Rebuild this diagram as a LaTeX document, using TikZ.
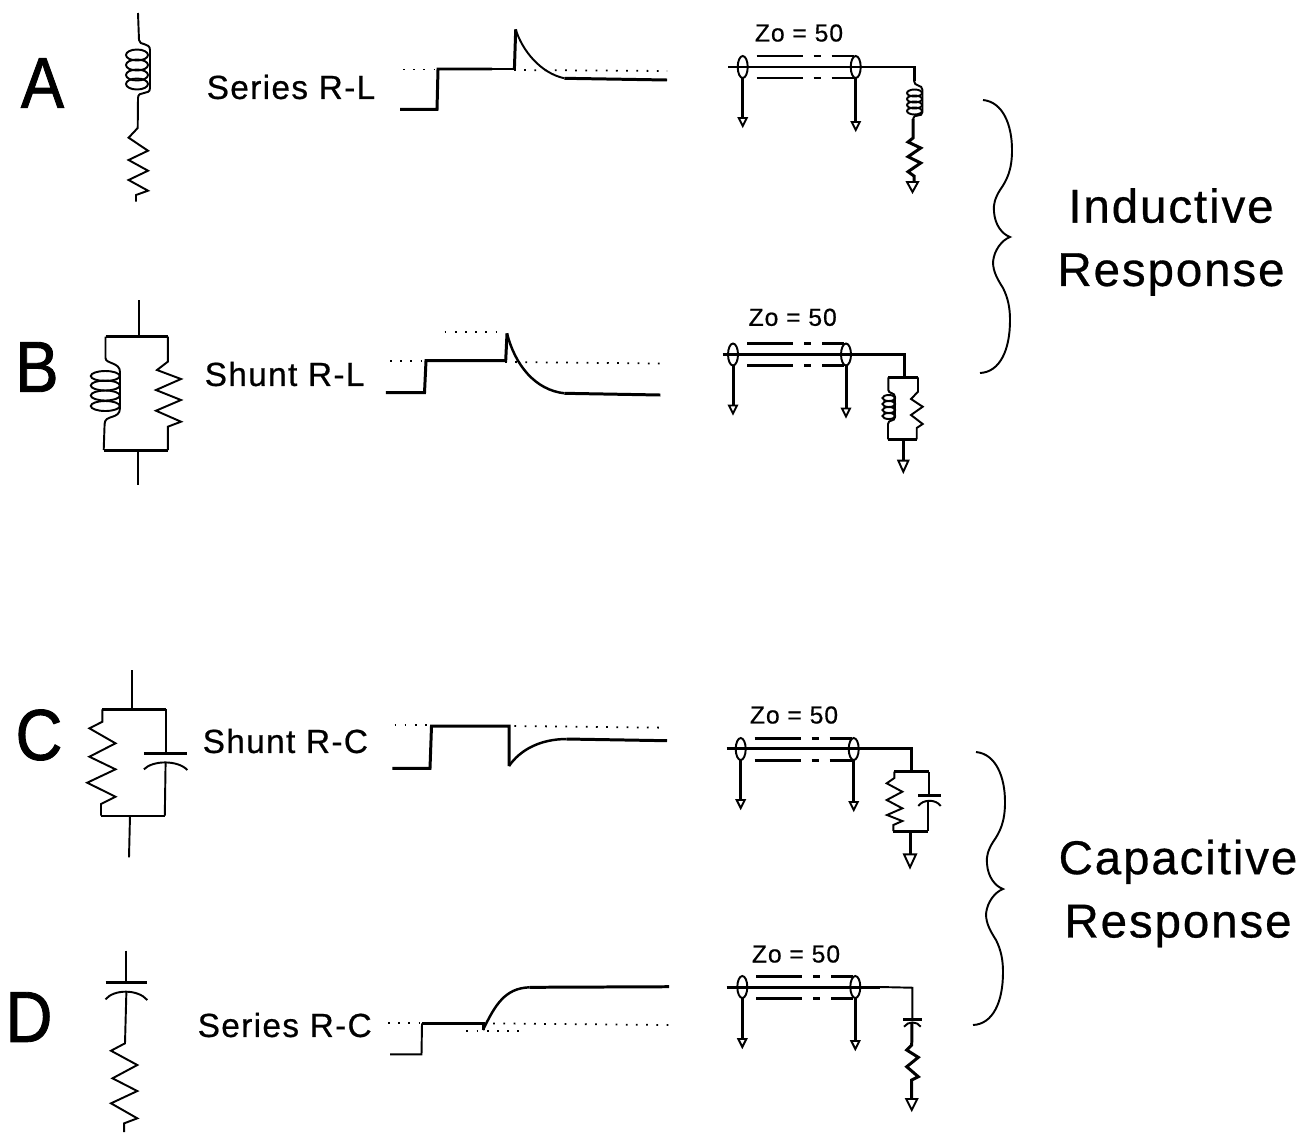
\documentclass[tikz,border=0pt]{standalone}
\usepackage{fontspec}
\setmainfont{Liberation Sans}
\newfontfamily\spacedfont[LetterSpace=4,FakeBold=0.6]{Liberation Sans}
\newfontfamily\letterfont[FakeStretch=0.9,FakeBold=1.2]{Liberation Sans}
\usetikzlibrary{calc}
\tikzset{
  wire/.style={line width=0.55pt},
  trace/.style={line width=0.85pt},
  thintrace/.style={line width=0.55pt},
  dotline/.style={line width=0.5pt, dash pattern=on 0.5pt off 2.4pt},
  plate/.style={line width=0.9pt},
  groundtip/.style={line width=0.55pt, fill=white},
  panelletter/.style={font=\letterfont\fontsize{20.5}{22}\selectfont},
  circuitname/.style={font=\spacedfont\fontsize{9.5}{11}\selectfont},
  impedance/.style={font=\spacedfont\fontsize{7}{8}\selectfont},
  responsename/.style={font=\spacedfont\fontsize{13.5}{18}\selectfont, align=center},
}
% x, y, half width, height
\newcommand{\gndtip}[4]{\draw[groundtip] (#1-#3,#2) -- (#1+#3,#2) -- (#1,#2+#4) -- cycle;}
% center x, rx, ry, list of y
\newcommand{\coilloops}[4]{\foreach \yc in {#4} {\draw[wire] (#1,\yc) ellipse [x radius=#2, y radius=#3];}}
% x, y of left end, drop of left stub, drop of right stub
\newcommand{\coaxline}[4]{%
  \draw[wire] (#1,#2) ellipse [x radius=5, y radius=11];
  \draw[wire] (#1+113,#2) ellipse [x radius=5, y radius=11];
  \foreach \yo in {-11,11} {
    \draw[trace] (#1+14,#2+\yo) -- (#1+60,#2+\yo);
    \draw[trace] (#1+71,#2+\yo) -- (#1+78,#2+\yo);
    \draw[trace] (#1+89,#2+\yo) -- (#1+111,#2+\yo);
  }
  \draw[trace] (#1,#2+11) -- (#1,#2+#3);
  \draw[trace] (#1+113,#2+11) -- (#1+113,#2+#4);
  \gndtip{#1}{#2+#3}{4}{8}
  \gndtip{#1+113}{#2+#4}{4}{8}
}
% shift of whole brace
\newcommand{\respbrace}[2]{%
  \draw[wire, shift={(#1,#2)}] (983,100) .. controls (1003,102) and (1012,125) .. (1012,150) .. controls (1012,170) and (1007,180) .. (1000,190) .. controls (995,198) and (993,205) .. (994,212) .. controls (995,225) and (1002,234) .. (1010,237) .. controls (1002,240) and (994,250) .. (993,262) .. controls (993,272) and (998,280) .. (1003,288) .. controls (1008,298) and (1010,308) .. (1010,320) .. controls (1010,350) and (1000,372) .. (980,373);
}

\begin{document}
\begin{tikzpicture}[x=0.01cm,y=-0.01cm]
\useasboundingbox (0,0) rectangle (1307,1133);

%%%%%%%%%%%%%%%%%%%%%%%%%%%%%%%%%%%%%%%%%%%%%%%%%%%%%%%%%%%%%% Row A
\node[panelletter] (letterA) at (42.5,83) {A};
\node[circuitname, anchor=west, inner sep=0pt] (nameA) at (206,87) {Series R-L};
\node[impedance] (zoA) at (799,33) {Zo = 50};

\draw[wire] (138,13) -- (139,40) .. controls (139,46) and (150,42) .. (150,50) -- (150,88) .. controls (150,96) and (138,90) .. (138,98) -- (137.7,128) -- (128.6,137.7) -- (148,150.7) -- (128.6,160) -- (148,170.7) -- (128.6,180) -- (148,190.7) -- (136,195) -- (136,201.7);
\coilloops{137}{11}{5.5}{55,65,75,84}

\draw[trace] (400,109.3) -- (437,109.3) -- (438,69) -- (492,69);
\draw[thintrace] (492,69) -- (514.4,69);
\draw[trace] (514.4,69) -- (515.7,29.3);
\draw[thintrace] (515.7,29.3) .. controls (522,50) and (540,73) .. (564.5,78.3);
\draw[trace] (564.5,78.3) -- (667,80);
\draw[dotline] (403,69.5) -- (437,69.5);
\draw[dotline] (514,70) -- (667,71);

\coaxline{742.7}{67}{51}{55}
\draw[wire] (728,67) -- (800,67);
\draw[trace] (800,67) -- (914,67) -- (914,81);
\draw[wire] (914,81) .. controls (914,87) and (922.5,84) .. (922.5,90) -- (922.5,112) .. controls (922.5,118) and (913,113) .. (913,119);
\coilloops{914.5}{7.5}{3.5}{93,99,105,111}
\draw[trace] (913,119) -- (913,138) -- (908,142) -- (920.7,148) -- (908,156.7) -- (920.7,163) -- (908,171.7) -- (914,176) -- (914,182);
\gndtip{912.5}{182}{5.5}{10}

%%%%%%%%%%%%%%%%%%%%%%%%%%%%%%%%%%%%%%%%%%%%%%%%%%%%%%%%%%%%%% Row B
\node[panelletter] (letterB) at (37,367) {B};
\node[circuitname, anchor=west, inner sep=0pt] (nameB) at (204,374) {Shunt R-L};
\node[impedance] (zoB) at (792.7,317.3) {Zo = 50};

\draw[wire] (138.6,300) -- (138.6,336.7);
\draw[trace] (105.5,336.7) -- (167.8,336.7);
\draw[wire] (105.5,336.7) -- (105.5,358) .. controls (105.5,364) and (120,362) .. (120,372) -- (120,408) .. controls (120,420) and (104.6,414) .. (104.6,424) -- (103.7,450);
\coilloops{105.3}{14.5}{5}{376,385.5,395.5,406}
\draw[wire] (167.8,336.7) -- (167.8,361.7) -- (157,370) -- (181,379) -- (156,390) -- (181,400) -- (156,410.7) -- (181,421.7) -- (167.8,426.7) -- (167.8,450);
\draw[trace] (103.7,450) -- (167.8,450);
\draw[wire] (137.8,450) -- (137.8,485);

\draw[trace] (385.8,392.7) -- (424.5,392.7) -- (426,360.7) -- (505.7,360.7) -- (507,333.3);
\draw[thintrace, line width=0.7pt] (507,333.3) .. controls (515,365) and (535,390) .. (564.5,393.3);
\draw[trace] (564.5,393.3) -- (660.4,395);
\draw[dotline] (390,361) -- (425,361);
\draw[dotline] (505,362) -- (660.4,363.5);
\draw[dotline] (444.6,331.7) -- (505.7,331.7);

\coaxline{733}{354.5}{51}{54}
\draw[trace] (722.7,354.5) -- (904,354.5) -- (904,377.3);
\draw[trace] (888.3,377.3) -- (918,377.3);
\draw[wire] (888.3,377.3) -- (888.3,390) .. controls (888.3,394) and (895,392) .. (895,397) -- (895,417) .. controls (895,422) and (888,419) .. (888,424) -- (888,439.3);
\coilloops{888.8}{6.3}{3}{398,404,410,416}
\draw[wire] (918,377.3) -- (918,391.7) -- (911,399) -- (922.7,406.7) -- (911,415) -- (922.7,424) -- (916.7,428) -- (916.7,439.3);
\draw[trace] (888,439.3) -- (916.7,439.3);
\draw[trace] (903.3,439.3) -- (903.3,460.7);
\gndtip{903.3}{460.7}{5}{11}

%%%%%%%%%%%%%%%%%%%%%%%%%%%%%%%%%%%%%%%%%%%%%%%%%%%%%%%%%%%%%% Row C
\node[panelletter] (letterC) at (39,735) {C};
\node[circuitname, anchor=west, inner sep=0pt] (nameC) at (202,741) {Shunt R-C};
\node[impedance] (zoC) at (794,715) {Zo = 50};

\draw[wire] (132,670) -- (132,709.3);
\draw[trace] (102.4,709.3) -- (165.6,709.3);
\draw[wire] (102.4,709.3) -- (102.4,721.7) -- (89.4,728.3) -- (115.5,743.3) -- (89.4,756.7) -- (115.5,769.3) -- (87.2,782.7) -- (115.5,796.7) -- (101,804) -- (101,815.7);
\draw[wire] (165.6,709.3) -- (165.6,753);
\draw[plate] (143.9,753.3) -- (187.4,753.3);
\draw[wire] (143.9,769.3) .. controls (153,760) and (178,760) .. (187.4,770);
\draw[wire] (165.6,762) -- (164.8,815.7);
\draw[wire] (101,815.7) -- (164.8,815.7);
\draw[wire] (130,815.7) -- (129,857.3);

\draw[trace] (392.3,768.3) -- (430,768.3) -- (431.5,726) -- (509,726) -- (509,766);
\draw[thintrace, line width=0.7pt] (509,766) .. controls (520,750) and (540,739) .. (566.7,739);
\draw[trace] (566.7,739) -- (667,740.7);
\draw[dotline] (394.5,725) -- (430,725);
\draw[dotline] (514.4,726) -- (667,727.7);

\coaxline{740.7}{749}{51}{53}
\draw[trace] (726.7,748.5) -- (911,748.5) -- (911,771.7);
\draw[trace] (894.3,771.7) -- (929.3,771.7);
\draw[wire] (894.3,771.7) -- (894.3,778) -- (886.7,783.3) -- (902.3,791.7) -- (886.7,800) -- (902.3,808.3) -- (887,815) -- (902.3,821) -- (893.3,825) -- (893.3,831);
\draw[wire] (929.3,771.7) -- (929.3,795);
\draw[plate] (918.3,795.7) -- (940.7,795.7);
\draw[wire] (918.3,806) .. controls (923,799) and (936,799) .. (940.7,806);
\draw[wire] (928.3,801) -- (928.3,831);
\draw[trace] (893.3,831) -- (928.3,831);
\draw[trace] (910,831) -- (910,854.3);
\gndtip{910}{854.3}{6}{13}

%%%%%%%%%%%%%%%%%%%%%%%%%%%%%%%%%%%%%%%%%%%%%%%%%%%%%%%%%%%%%% Row D
\node[panelletter] (letterD) at (29,1017) {D};
\node[circuitname, anchor=west, inner sep=0pt] (nameD) at (197,1025) {Series R-C};
\node[impedance] (zoD) at (796,954) {Zo = 50};

\draw[wire] (126.4,950.7) -- (126.4,982.3);
\draw[plate] (105.5,982.3) -- (147.3,982.3);
\draw[wire] (105.5,999.3) .. controls (114,989) and (138,989) .. (147.3,1000);
\draw[wire] (126.4,991) -- (125,1043.3) -- (111,1050.7) -- (137.3,1065) -- (112.5,1078.3) -- (137.3,1091) -- (111,1103.3) -- (137.3,1118.3) -- (124.2,1123.3) -- (124.2,1132);

\draw[thintrace] (390,1054.3) -- (421.5,1054.3) -- (422,1023.3);
\draw[trace] (422,1023.3) -- (483,1023.3) -- (483,1030);
\draw[thintrace, line width=0.7pt] (483,1030) .. controls (495,1005) and (505,988) .. (529.6,987.3);
\draw[trace] (529.6,987.3) -- (669,986.7);
\draw[dotline] (388,1022.7) -- (421,1022.7);
\draw[dotline] (483,1023.3) -- (669,1025);
\draw[dotline] (466.4,1031) -- (525.3,1031);

\coaxline{742.3}{987}{52}{54}
\draw[trace] (726.7,987) -- (880,987);
\draw[wire] (880,987) -- (912.3,987.7) -- (912.3,1019);
\draw[plate] (903.3,1019.3) -- (921.7,1019.3);
\draw[wire] (904,1026.7) .. controls (908,1021) and (917,1021) .. (920.7,1026.7);
\draw[trace] (912,1022) -- (911.7,1045) -- (906.7,1050) -- (918.3,1057.3) -- (906.7,1066.7) -- (918.3,1076.7) -- (911.7,1080) -- (911.7,1099);
\gndtip{911.7}{1099}{5.5}{11}

%%%%%%%%%%%%%%%%%%%%%%%%%%%%%%%%%%%%%%%%%%%%%%%%%%%%%%%%%%%%%% Groups
\respbrace{0}{0}
\respbrace{-7}{652}
\node[responsename] (inductive) at (1171,242) {Inductive\\Response};
\node[responsename] (capacitive) at (1178,893.5) {Capacitive\\Response};

\end{tikzpicture}
\end{document}
